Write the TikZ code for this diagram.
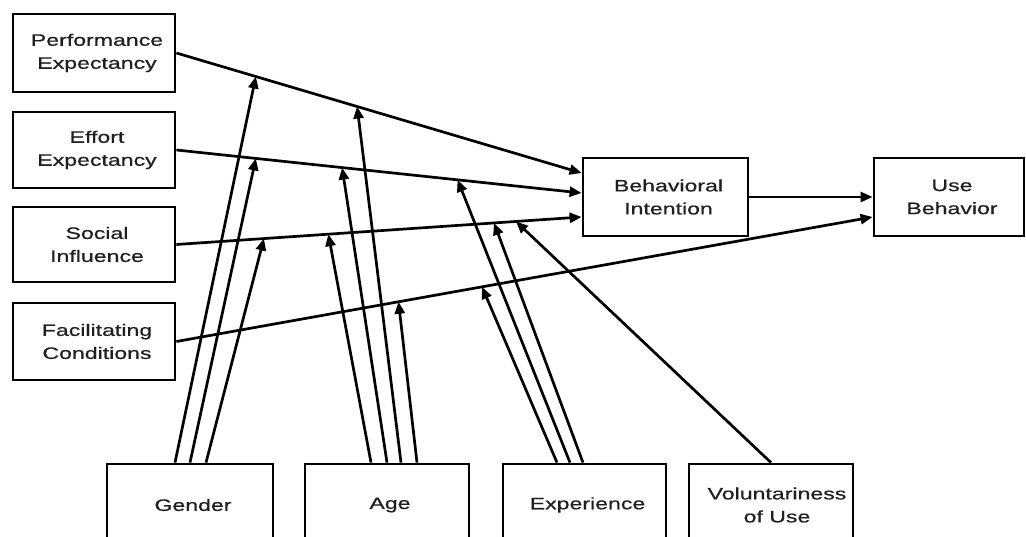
\documentclass[tikz,border=0pt]{standalone}
\usepackage{fontspec}
\setmainfont{Liberation Sans}[FakeStretch=1.4,FakeBold=0.6]
\usetikzlibrary{arrows.meta,calc}
\begin{document}
\begin{tikzpicture}[x=1pt,y=-1pt,
  box/.style={draw=black,line width=2.8pt,inner sep=0pt,align=center,
    font=\fontsize{16.5}{23}\selectfont,text=black!88},
  conn/.style={line width=2.7pt,-{Triangle[length=12pt,width=10pt]}},
  ]
\useasboundingbox (0,0) rectangle (1026,537);
\fill[white] (0,0) rectangle (1026,537);
% left constructs
\node[box,minimum width=162pt,minimum height=78pt] (pe) at (94,53) {\hspace*{6pt}Performance\\\hspace*{6pt}Expectancy};
\node[box,minimum width=162pt,minimum height=76pt] (ee) at (94,150) {\hspace*{6pt}Effort\\\hspace*{6pt}Expectancy};
\node[box,minimum width=162pt,minimum height=75pt] (si) at (94,244.5) {\hspace*{6pt}Social\\\hspace*{6pt}Influence};
\node[box,minimum width=162pt,minimum height=77pt] (fc) at (94,341.5) {\hspace*{6pt}Facilitating\\\hspace*{6pt}Conditions};
% outcome constructs
\node[box,minimum width=165pt,minimum height=78pt] (bi) at (665.5,197) {\hspace*{6pt}Behavioral\\\hspace*{6pt}Intention};
\node[box,minimum width=150pt,minimum height=78pt] (ub) at (949,197) {\hspace*{6pt}Use\\\hspace*{6pt}Behavior};
% moderators
\node[box,minimum width=166pt,minimum height=82pt] (gen) at (190,505) {\hspace*{6pt}Gender};
\node[box,minimum width=164pt,minimum height=82pt] (age) at (387,505) {\hspace*{6pt}Age};
\node[box,minimum width=163pt,minimum height=82pt] (exp) at (584.5,505) {\hspace*{6pt}Experience};
\node[box,minimum width=164pt,minimum height=82pt] (vol) at (771,505) {\hspace*{12pt}Voluntariness\\\hspace*{12pt}of Use};
% end points on the outcome boxes
\coordinate (bi1) at ($(bi.west)+(0,-24)$);
\coordinate (bi2) at ($(bi.west)+(0,-4)$);
\coordinate (bi3) at ($(bi.west)+(0,20)$);
\coordinate (ub2) at ($(ub.west)+(0,20)$);
% main paths
\draw[conn] (pe.east) -- (bi1);
\draw[conn] (ee.east) -- (bi2);
\draw[conn] (si.east) -- (bi3);
\draw[conn] (bi.east) -- (ub.west);
\draw[conn] (fc.east) -- (ub2);
% moderation targets on the paths
\coordinate (gpe) at ($(pe.east)!0.196!(bi1)$);
\coordinate (ape) at ($(pe.east)!0.446!(bi1)$);
\coordinate (gee) at ($(ee.east)!0.196!(bi2)$);
\coordinate (aee) at ($(ee.east)!0.409!(bi2)$);
\coordinate (xee) at ($(ee.east)!0.694!(bi2)$);
\coordinate (gsi) at ($(si.east)!0.216!(bi3)$);
\coordinate (asi) at ($(si.east)!0.375!(bi3)$);
\coordinate (xsi) at ($(si.east)!0.784!(bi3)$);
\coordinate (vsi) at ($(si.east)!0.838!(bi3)$);
\coordinate (afc) at ($(fc.east)!0.319!(ub2)$);
\coordinate (xfc) at ($(fc.east)!0.439!(ub2)$);
% gender
\draw[conn] ($(gen.north)+(-15,0)$) -- (gpe);
\draw[conn] ($(gen.north)+(0,0)$) -- (gee);
\draw[conn] ($(gen.north)+(16,0)$) -- (gsi);
% age
\draw[conn] ($(age.north)+(-16,0)$) -- (asi);
\draw[conn] ($(age.north)+(0,0)$) -- (aee);
\draw[conn] ($(age.north)+(14,0)$) -- (ape);
\draw[conn] ($(age.north)+(30,0)$) -- (afc);
% experience
\draw[conn] ($(exp.north)+(-27.5,0)$) -- (xfc);
\draw[conn] ($(exp.north)+(-14.5,0)$) -- (xee);
\draw[conn] ($(exp.north)+(-1.5,0)$) -- (xsi);
% voluntariness
\draw[conn] (vol.north) -- (vsi);
\end{tikzpicture}
\end{document}
